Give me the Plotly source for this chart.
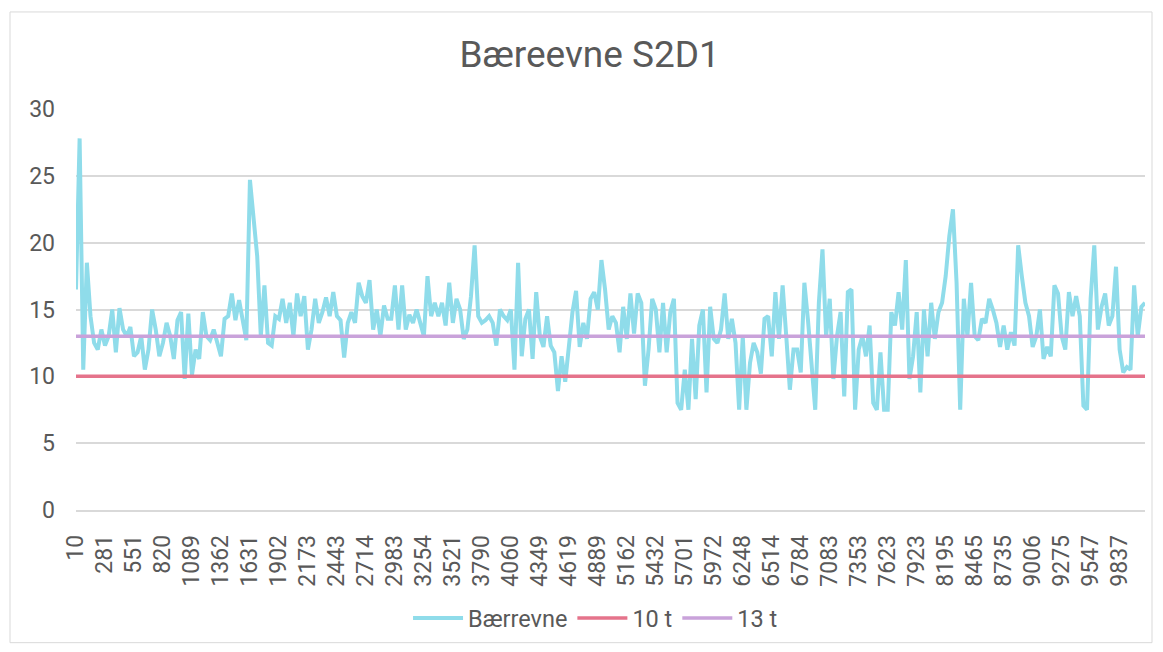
import plotly.graph_objects as go

# Category labels shown on the x axis (every 8th measuring point)
tick_labels = ["10", "281", "551", "820", "1089", "1362", "1631", "1902", "2173",
               "2443", "2714", "2983", "3254", "3521", "3790", "4060", "4349",
               "4619", "4889", "5162", "5432", "5701", "5972", "6248", "6514",
               "6784", "7083", "7353", "7623", "7923", "8195", "8465", "8735",
               "9006", "9275", "9547", "9837"]
points_per_label = 8

# Bearing capacity values
baereevne = [
    16.5, 27.8, 10.5, 18.5, 14.5, 12.5, 12.0, 13.5,
    12.3, 13.0, 15.0, 11.8, 15.1, 13.5, 13.0, 13.7,
    11.5, 11.8, 13.0, 10.5, 12.0, 15.0, 13.5, 11.5,
    12.5, 14.0, 13.0, 11.3, 14.2, 14.8, 9.8, 14.7,
    10.1, 12.0, 11.3, 14.8, 13.0, 12.7, 13.5, 12.5,
    11.5, 14.3, 14.5, 16.2, 14.2, 15.7, 14.0, 12.7,
    24.7, 21.5, 19.0, 13.0, 16.8, 12.5, 12.3, 14.5,
    14.3, 15.8, 14.0, 15.5, 13.0, 16.2, 14.5, 16.0,
    12.0, 13.5, 15.8, 14.0, 14.8, 15.9, 14.5, 16.3,
    14.5, 14.2, 11.4, 14.0, 14.8, 14.0, 17.0, 16.0,
    15.5, 17.2, 13.5, 15.0, 13.0, 15.3, 14.3, 14.3,
    16.8, 13.5, 16.8, 13.5, 14.6, 14.0, 15.0, 14.0,
    13.0, 17.5, 14.5, 15.5, 14.5, 15.5, 13.8, 17.0,
    14.0, 15.8, 15.0, 12.8, 13.5, 16.0, 19.8, 14.5,
    14.0, 14.2, 14.5, 14.0, 12.3, 15.0, 14.5, 14.2,
    15.0, 10.5, 18.5, 11.5, 14.3, 15.0, 11.3, 16.3,
    13.0, 12.2, 14.5, 12.3, 11.8, 8.9, 11.5, 9.6,
    12.5, 14.8, 16.4, 12.2, 14.0, 12.8, 15.8, 16.3,
    15.0, 18.7, 16.5, 13.5, 14.5, 14.0, 11.8, 15.2,
    12.8, 16.2, 13.2, 16.2, 15.5, 9.3, 12.0, 15.8,
    15.0, 11.8, 15.5, 11.8, 14.8, 15.8, 8.0, 7.5,
    10.5, 7.5, 12.8, 8.3, 13.8, 15.0, 8.8, 15.2,
    12.8, 12.5, 13.5, 16.2, 12.8, 14.3, 12.5, 7.5,
    13.0, 7.5, 11.0, 12.5, 11.8, 10.2, 14.3, 14.5,
    11.5, 16.3, 12.8, 16.8, 13.0, 9.0, 12.0, 12.0,
    10.3, 17.0, 14.2, 11.0, 7.5, 15.5, 19.5, 13.0,
    15.8, 9.8, 13.0, 14.8, 8.5, 16.3, 16.5, 7.5,
    12.0, 13.0, 11.5, 13.8, 8.0, 7.5, 11.8, 7.5,
    7.5, 14.8, 13.8, 16.3, 13.5, 18.7, 9.8, 11.5,
    14.8, 8.8, 15.0, 11.5, 15.5, 12.8, 14.8, 15.5,
    17.5, 20.5, 22.5, 17.0, 7.5, 15.8, 13.0, 17.0,
    13.0, 12.7, 14.3, 14.0, 15.8, 15.0, 14.0, 12.2,
    13.8, 12.0, 13.3, 12.3, 19.8, 17.5, 15.5, 14.5,
    12.2, 13.0, 15.0, 11.3, 12.2, 11.5, 16.8, 16.2,
    13.0, 12.0, 16.3, 14.5, 16.0, 14.5, 7.8, 7.5,
    15.8, 19.8, 13.5, 15.2, 16.2, 13.8, 14.5, 18.2,
    12.0, 10.3, 10.7, 10.5, 16.8, 13.0, 15.2, 15.5,
]

# Threshold levels
limit_10t = 10
limit_13t = 13

series_names = ["Bærrevne", "10 t", "13 t"]
colors = ["#8FDCEA", "#E5738B", "#C9A2DA"]

n = len(baereevne)
x = list(range(n))
tick_vals = [i * points_per_label for i in range(len(tick_labels))]

TEXT = "#595959"
GRID = "#D9D9D9"
FONT = "Roboto"

fig = go.Figure()
fig.add_trace(go.Scatter(x=x, y=baereevne, mode="lines", name=series_names[0],
                         line=dict(color=colors[0], width=4)))
fig.add_trace(go.Scatter(x=x, y=[limit_10t] * n, mode="lines", name=series_names[1],
                         line=dict(color=colors[1], width=3.5)))
fig.add_trace(go.Scatter(x=x, y=[limit_13t] * n, mode="lines", name=series_names[2],
                         line=dict(color=colors[2], width=3.5)))

fig.update_layout(
    width=1163, height=652,
    margin=dict(l=76, r=18, t=109, b=138),
    paper_bgcolor="white", plot_bgcolor="white",
    font=dict(family=FONT, color=TEXT, size=23),
    title=dict(text="Bæreevne S2D1", x=0.507, xanchor="center",
               y=0.917, yanchor="middle",
               font=dict(family=FONT, size=37, color=TEXT)),
    legend=dict(orientation="h", x=0.486, xanchor="center", y=-0.27, yanchor="middle",
                font=dict(family=FONT, size=23.5, color=TEXT), bgcolor="rgba(0,0,0,0)",
                itemwidth=50),
    xaxis=dict(range=[0, n - 1], tickmode="array", tickvals=tick_vals, ticktext=tick_labels,
               tickangle=-90, showgrid=False, showline=True, linecolor=GRID, linewidth=1.5,
               zeroline=False, ticks="", ticklabelstandoff=14,
               tickfont=dict(family=FONT, size=23, color=TEXT)),
    yaxis=dict(range=[0, 30], dtick=5, tick0=0, showgrid=True, gridcolor=GRID, gridwidth=1.5,
               zeroline=False, showline=False, ticks="", ticklabelstandoff=20,
               tickfont=dict(family=FONT, size=23, color=TEXT)),
    showlegend=True,
)

# Chart area border
fig.add_shape(type="rect", xref="paper", yref="paper",
              x0=(10 - 76) / 1069, x1=(1152 - 76) / 1069,
              y0=(514 - 648) / 405, y1=(514 - 11) / 405,
              line=dict(color=GRID, width=1), fillcolor="rgba(0,0,0,0)", layer="below")

fig.write_html("out.html", config={"displayModeBar": False},
               post_script="document.body.style.margin='0';document.body.style.padding='0';")
